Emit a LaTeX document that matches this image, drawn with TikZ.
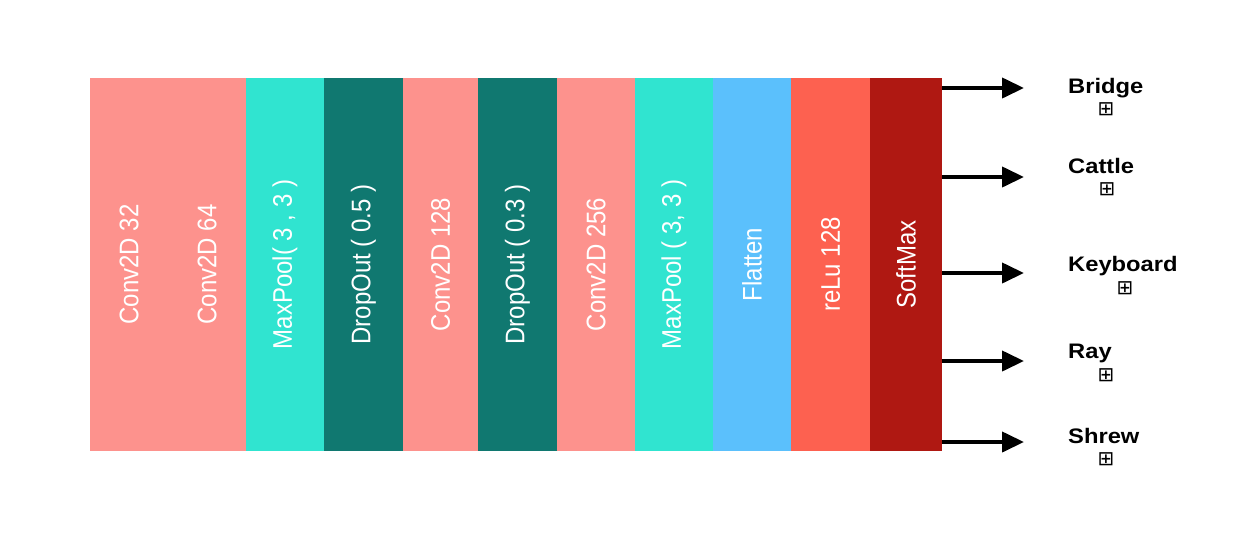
\documentclass[tikz,border=0pt]{standalone}
\usepackage{fontspec}
\usepackage{graphicx}
\setmainfont{Liberation Sans}
\newfontfamily\symfont{DejaVu Sans}
\usetikzlibrary{arrows.meta}
\definecolor{cpink}{HTML}{FD928D}
\definecolor{cturq}{HTML}{30E4D0}
\definecolor{cteal}{HTML}{107870}
\definecolor{cblue}{HTML}{5BC0FC}
\definecolor{ccoral}{HTML}{FD6150}
\definecolor{cdred}{HTML}{AF1812}
\newcommand{\collabel}[1]{\rotatebox{90}{\scalebox{1}[1.12]{\fontsize{24}{28}\selectfont #1}}}
\newcommand{\outlabel}[1]{\scalebox{1.13}[1]{\fontsize{21}{25}\selectfont\bfseries #1}}
\begin{document}
\begin{tikzpicture}[x=1pt,y=-1pt,
  col/.style={rectangle, inner sep=0pt, minimum height=373pt, text=white, draw=none},
  arr/.style={line width=4pt, -{Triangle[length=22pt,width=20pt]}},
  outtext/.style={anchor=base west, inner sep=0pt, text=black},
  symbox/.style={inner sep=0pt, font=\symfont\fontsize{20}{20}\selectfont}]
\useasboundingbox[fill=white] (0,0) rectangle (1252,544);
\node[col, fill=cpink,  minimum width=78pt] (c1)  at (129,264.5)   {\collabel{Conv2D 32}};
\node[col, fill=cpink,  minimum width=78pt] (c2)  at (207,264.5)   {\collabel{Conv2D 64}};
\node[col, fill=cturq,  minimum width=78pt] (c3)  at (285,264.5)   {\collabel{MaxPool( 3 , 3 )}};
\node[col, fill=cteal,  minimum width=79pt] (c4)  at (363.5,264.5) {\collabel{DropOut ( 0.5 )}};
\node[col, fill=cpink,  minimum width=75pt] (c5)  at (440.5,264.5) {\collabel{Conv2D 128}};
\node[col, fill=cteal,  minimum width=79pt] (c6)  at (517.5,264.5) {\collabel{DropOut ( 0.3 )}};
\node[col, fill=cpink,  minimum width=78pt] (c7)  at (596,264.5)   {\collabel{Conv2D 256}};
\node[col, fill=cturq,  minimum width=78pt] (c8)  at (674,264.5)   {\collabel{MaxPool ( 3, 3 )}};
\node[col, fill=cblue,  minimum width=78pt] (c9)  at (752,264.5)   {\collabel{Flatten}};
\node[col, fill=ccoral, minimum width=79pt] (c10) at (830.5,264.5) {\collabel{reLu 128}};
\node[col, fill=cdred,  minimum width=72pt] (c11) at (906,264.5)   {\collabel{SoftMax}};
% arrow ends
\coordinate (e1) at (1024,88);
\coordinate (e2) at (1024,177);
\coordinate (e3) at (1024,273);
\coordinate (e4) at (1024,361);
\coordinate (e5) at (1024,442);
\foreach \i in {1,...,5}{
  \draw[arr] (c11.east |- e\i) -- (e\i);
}
% output labels
\node[outtext] (l1) at (1068,93)  {\outlabel{Bridge}};
\node[outtext] (l2) at (1068,173) {\outlabel{Cattle}};
\node[outtext] (l3) at (1068,271) {\outlabel{Keyboard}};
\node[outtext] (l4) at (1068,358) {\outlabel{Ray}};
\node[outtext] (l5) at (1068,443) {\outlabel{Shrew}};
\node[symbox] (s1) at (1106,109) {⊞};
\node[symbox] (s2) at (1107,189) {⊞};
\node[symbox] (s3) at (1125,288) {⊞};
\node[symbox] (s4) at (1106,375) {⊞};
\node[symbox] (s5) at (1106,459) {⊞};
\end{tikzpicture}
\end{document}
